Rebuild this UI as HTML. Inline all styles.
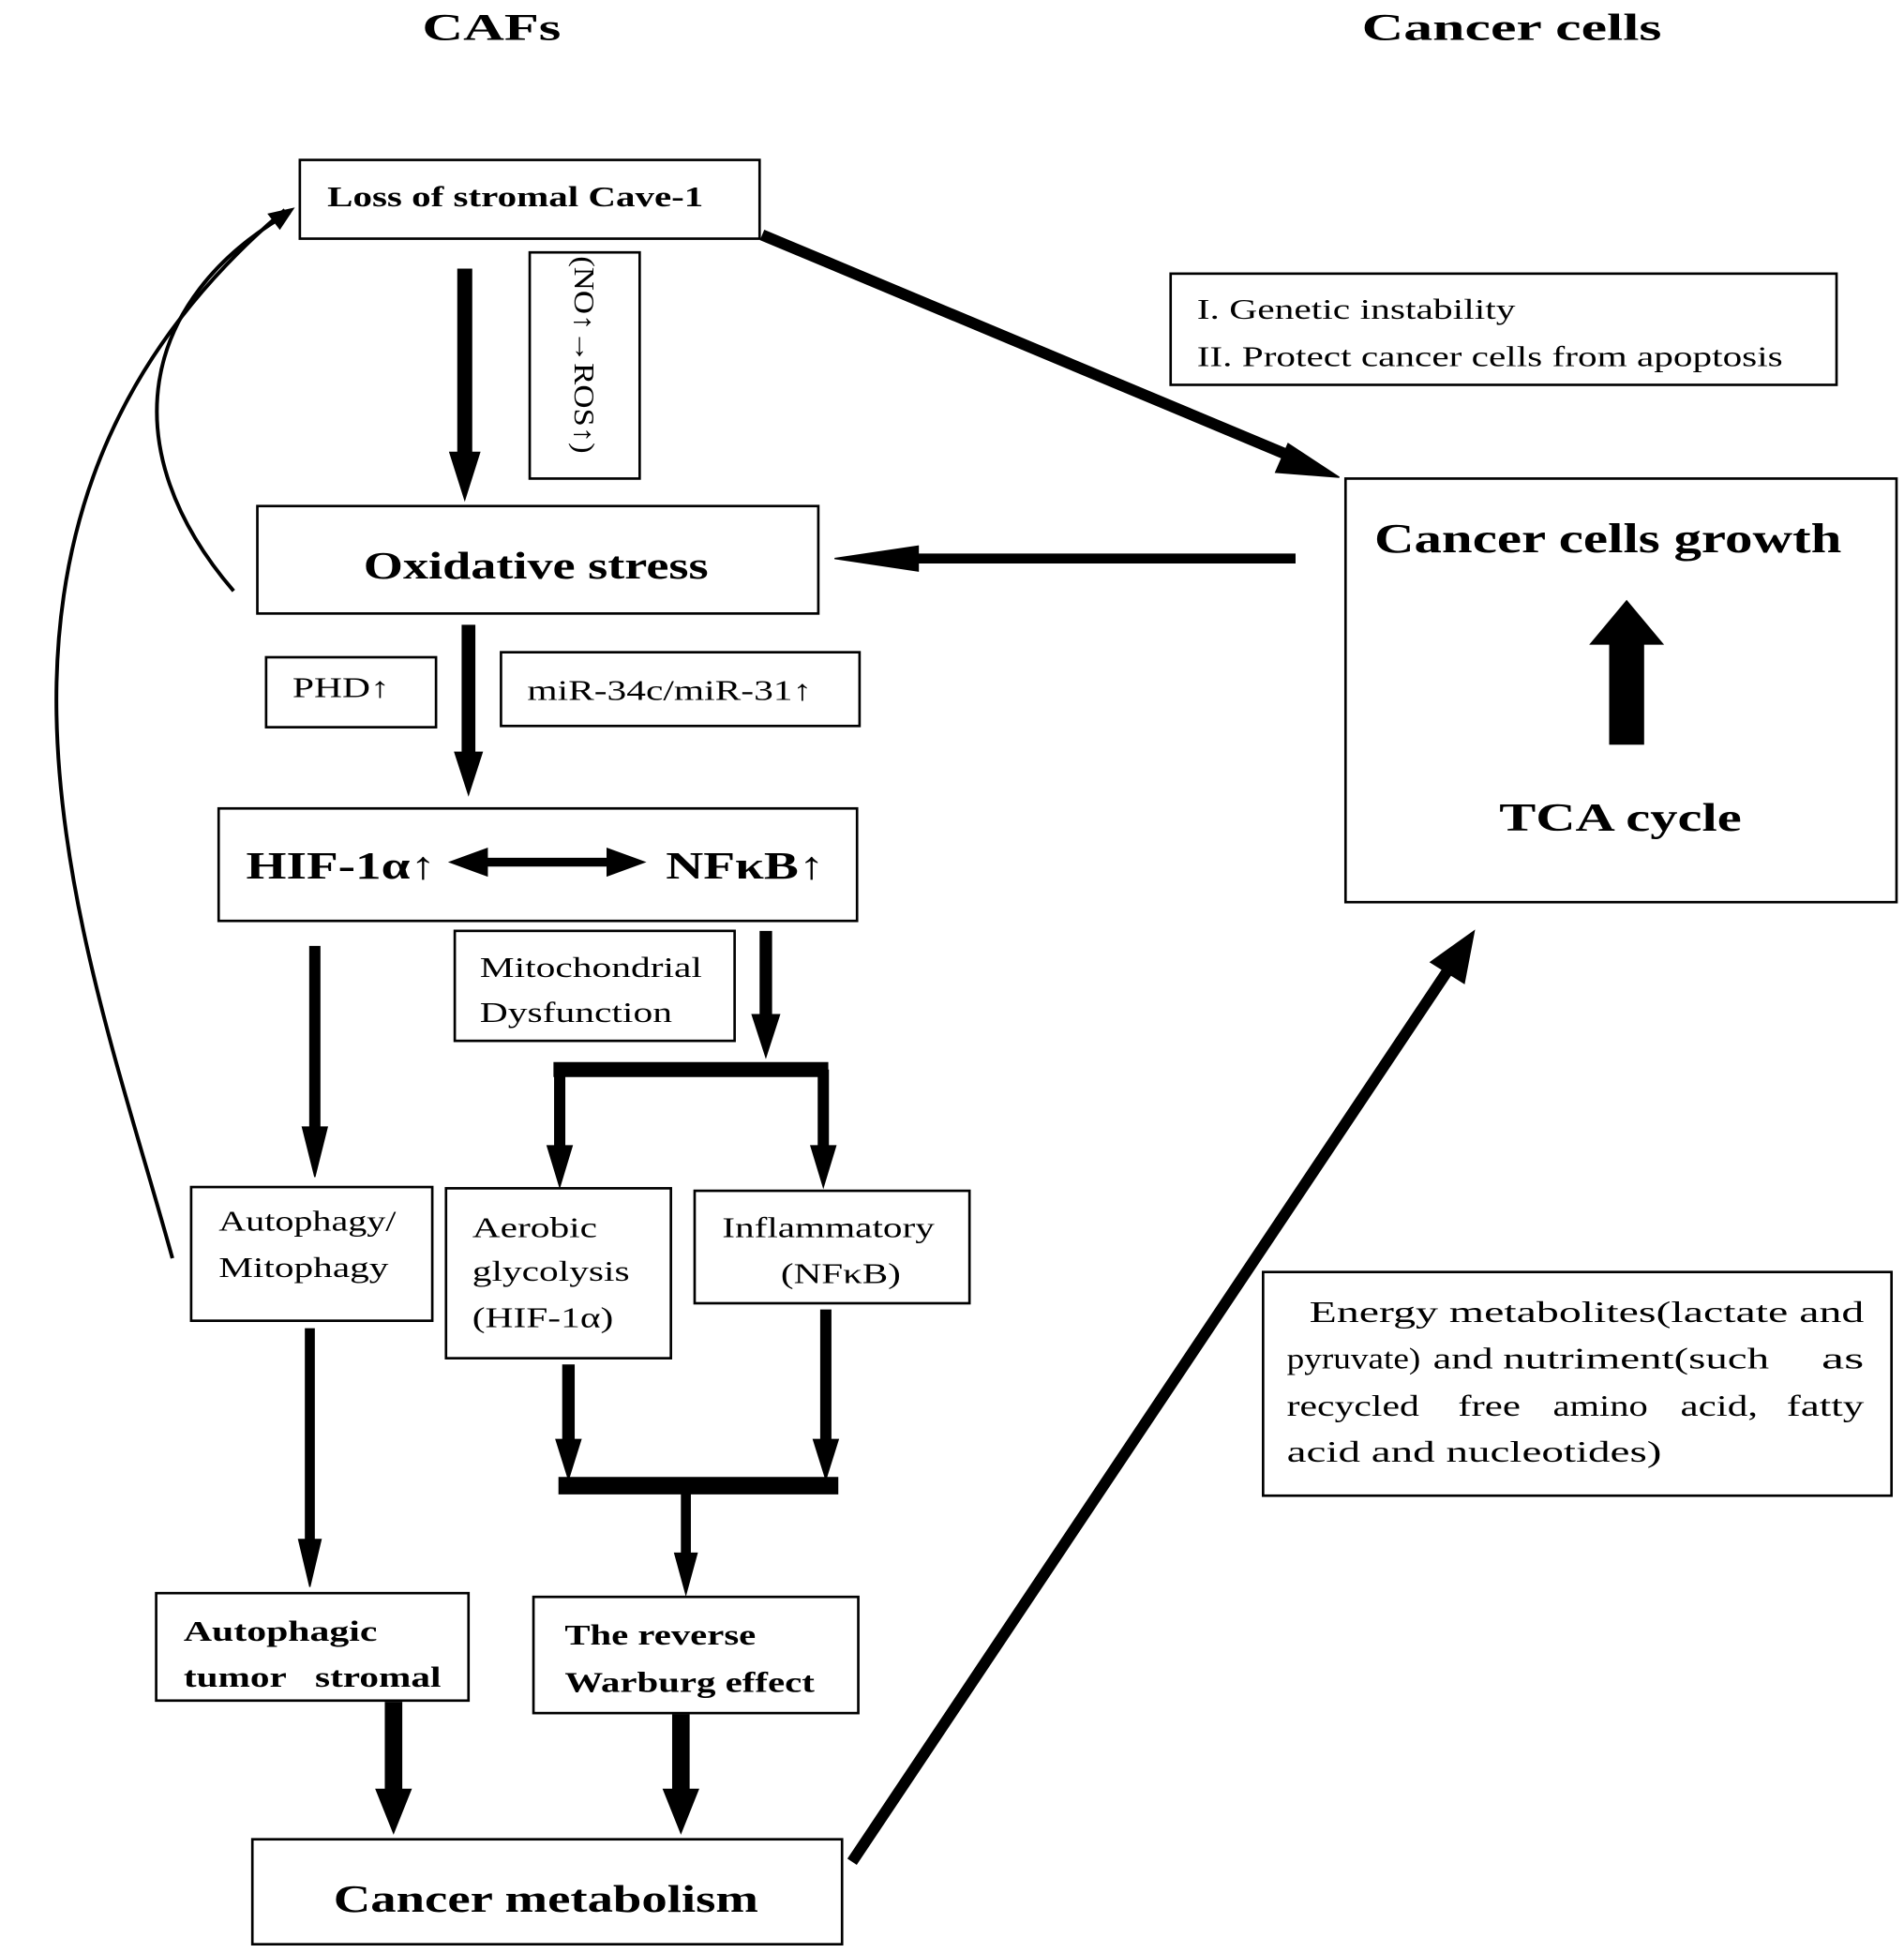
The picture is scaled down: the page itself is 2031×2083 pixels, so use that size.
<!DOCTYPE html>
<html><head><meta charset="utf-8"><style>
html,body{margin:0;padding:0;background:#fff}
svg{display:block}
text{font-family:"Liberation Serif",serif;fill:#000}
.b{font-weight:bold}
</style></head><body>
<svg width="2031" height="2083" viewBox="0 0 1524 1563" preserveAspectRatio="none" xmlns="http://www.w3.org/2000/svg">
<g fill="none" stroke="#000" stroke-width="2">
<rect x="240" y="128" width="368" height="63"/>
<rect x="424" y="202" width="88" height="181"/>
<rect x="206" y="405" width="449" height="86"/>
<rect x="937" y="219" width="533" height="89"/>
<rect x="1077" y="383" width="441" height="339"/>
<rect x="213" y="526" width="136" height="56"/>
<rect x="401" y="522" width="287" height="59"/>
<rect x="175" y="647" width="511" height="90"/>
<rect x="364" y="745" width="224" height="88"/>
<rect x="153" y="950" width="193" height="107"/>
<rect x="357" y="951" width="180" height="136"/>
<rect x="556" y="953" width="220" height="90"/>
<rect x="125" y="1275" width="250" height="86"/>
<rect x="427" y="1278" width="260" height="93"/>
<rect x="202" y="1472" width="472" height="84"/>
<rect x="1011" y="1018" width="503" height="179"/>
</g>
<g>
<text x="338" y="32" class="b" font-size="30" textLength="111" lengthAdjust="spacingAndGlyphs">CAFs</text>
<text x="1090" y="32" class="b" font-size="30" textLength="240" lengthAdjust="spacingAndGlyphs">Cancer cells</text>
<text x="262" y="165" class="b" font-size="23" textLength="301" lengthAdjust="spacingAndGlyphs">Loss of stromal Cave-1</text>
<text transform="translate(460,205) rotate(90)" font-size="23" textLength="158" lengthAdjust="spacingAndGlyphs">(NO↑→ROS↑)</text>
<text x="291" y="463" class="b" font-size="31" textLength="276" lengthAdjust="spacingAndGlyphs">Oxidative stress</text>
<text x="958" y="255" font-size="23" textLength="255" lengthAdjust="spacingAndGlyphs">I. Genetic instability</text>
<text x="958" y="293" font-size="23" textLength="469" lengthAdjust="spacingAndGlyphs">II. Protect cancer cells from apoptosis</text>
<text x="1100" y="442" class="b" font-size="33" textLength="374" lengthAdjust="spacingAndGlyphs">Cancer cells growth</text>
<text x="1200" y="665" class="b" font-size="32" textLength="194" lengthAdjust="spacingAndGlyphs">TCA cycle</text>
<text x="234" y="558" font-size="23" textLength="78" lengthAdjust="spacingAndGlyphs">PHD↑</text>
<text x="422" y="560" font-size="23" textLength="228" lengthAdjust="spacingAndGlyphs">miR-34c/miR-31↑</text>
<text x="197" y="703" class="b" font-size="31" textLength="152" lengthAdjust="spacingAndGlyphs">HIF-1α↑</text>
<text x="533" y="703" class="b" font-size="31" textLength="127" lengthAdjust="spacingAndGlyphs">NFκB↑</text>
<text x="384" y="782" font-size="23" textLength="178" lengthAdjust="spacingAndGlyphs">Mitochondrial</text>
<text x="384" y="818" font-size="23" textLength="154" lengthAdjust="spacingAndGlyphs">Dysfunction</text>
<text x="175" y="985" font-size="23" textLength="142" lengthAdjust="spacingAndGlyphs">Autophagy/</text>
<text x="175" y="1022" font-size="23" textLength="136" lengthAdjust="spacingAndGlyphs">Mitophagy</text>
<text x="378" y="990" font-size="23" textLength="100" lengthAdjust="spacingAndGlyphs">Aerobic</text>
<text x="378" y="1025" font-size="23" textLength="126" lengthAdjust="spacingAndGlyphs">glycolysis</text>
<text x="378" y="1062" font-size="23" textLength="113" lengthAdjust="spacingAndGlyphs">(HIF-1α)</text>
<text x="578" y="990" font-size="23" textLength="170" lengthAdjust="spacingAndGlyphs">Inflammatory</text>
<text x="625" y="1027" font-size="23" textLength="96" lengthAdjust="spacingAndGlyphs">(NFκB)</text>
<text x="147" y="1313" class="b" font-size="23" textLength="155" lengthAdjust="spacingAndGlyphs">Autophagic</text>
<text x="147" y="1350" class="b" font-size="23" xml:space="preserve" textLength="206" lengthAdjust="spacingAndGlyphs">tumor   stromal</text>
<text x="452" y="1316" class="b" font-size="23" textLength="153" lengthAdjust="spacingAndGlyphs">The reverse</text>
<text x="452" y="1354" class="b" font-size="23" textLength="200" lengthAdjust="spacingAndGlyphs">Warburg effect</text>
<text x="267" y="1530" class="b" font-size="31" textLength="340" lengthAdjust="spacingAndGlyphs">Cancer metabolism</text>
<text x="1048" y="1058" font-size="24" textLength="444" lengthAdjust="spacingAndGlyphs">Energy metabolites(lactate and</text>
<text x="1030" y="1095" font-size="24" textLength="107" lengthAdjust="spacingAndGlyphs">pyruvate)</text>
<text x="1147" y="1095" font-size="24" textLength="48" lengthAdjust="spacingAndGlyphs">and</text>
<text x="1203" y="1095" font-size="24" textLength="213" lengthAdjust="spacingAndGlyphs">nutriment(such</text>
<text x="1458" y="1095" font-size="24" textLength="34" lengthAdjust="spacingAndGlyphs">as</text>
<text x="1030" y="1133" font-size="24" textLength="106" lengthAdjust="spacingAndGlyphs">recycled</text>
<text x="1167" y="1133" font-size="24" textLength="50" lengthAdjust="spacingAndGlyphs">free</text>
<text x="1243" y="1133" font-size="24" textLength="76" lengthAdjust="spacingAndGlyphs">amino</text>
<text x="1345" y="1133" font-size="24" textLength="62" lengthAdjust="spacingAndGlyphs">acid,</text>
<text x="1430" y="1133" font-size="24" textLength="62" lengthAdjust="spacingAndGlyphs">fatty</text>
<text x="1030" y="1170" font-size="24" textLength="300" lengthAdjust="spacingAndGlyphs">acid and nucleotides)</text>
</g>
<g stroke="#000" fill="#000">
<line x1="372" y1="215" x2="372" y2="365" stroke-width="12"/><path d="M360,362 L384,362 L372,400 z"/>
<line x1="375" y1="500" x2="375" y2="605" stroke-width="11"/><path d="M364,602 L386,602 L375,636 z"/>
<line x1="613" y1="745" x2="613" y2="815" stroke-width="10"/><path d="M602,812 L624,812 L613,846 z"/>
<line x1="252" y1="757" x2="252" y2="905" stroke-width="9"/><path d="M242,902 L262,902 L252,942 z"/>
<line x1="443" y1="856" x2="663" y2="856" stroke-width="12"/>
<line x1="448" y1="856" x2="448" y2="920" stroke-width="9"/><path d="M438,917 L458,917 L448,950 z"/>
<line x1="659" y1="856" x2="659" y2="920" stroke-width="9"/><path d="M649,917 L669,917 L659,950 z"/>
<line x1="455" y1="1092" x2="455" y2="1155" stroke-width="10"/><path d="M445,1152 L465,1152 L455,1184 z"/>
<line x1="661" y1="1048" x2="661" y2="1155" stroke-width="9"/><path d="M651,1152 L671,1152 L661,1184 z"/>
<line x1="447" y1="1189" x2="671" y2="1189" stroke-width="14"/>
<line x1="549" y1="1195" x2="549" y2="1245" stroke-width="8"/><path d="M540,1243 L558,1243 L549,1276 z"/>
<line x1="248" y1="1063" x2="248" y2="1235" stroke-width="8"/><path d="M239,1232 L257,1232 L248,1270 z"/>
<line x1="315" y1="1362" x2="315" y2="1435" stroke-width="14"/><path d="M301,1432 L329,1432 L315,1467 z"/>
<line x1="545" y1="1372" x2="545" y2="1435" stroke-width="14"/><path d="M531,1432 L559,1432 L545,1467 z"/>
<line x1="385" y1="690" x2="492" y2="690" stroke-width="7"/>
<path d="M360,690 L390,679 L390,701 z"/><path d="M516,690 L486,679 L486,701 z"/>
<line x1="1037" y1="447" x2="730" y2="447" stroke-width="8"/><path d="M668,447 L735,437 L735,457 z"/>
<line x1="610" y1="188" x2="1040" y2="368" stroke-width="9"/><path d="M1072,382 L1031,355 L1021,378 z" />
<line x1="682" y1="1490" x2="1160" y2="775" stroke-width="9"/><path d="M1180,745 L1145,770 L1172,787 z"/>
<rect x="1288" y="515" width="28" height="81" stroke="none"/><path d="M1272,516 L1332,516 L1302,480 z" stroke="none"/>
</g>
<g fill="none" stroke="#000" stroke-width="3">
<path d="M187,473 C90,360 110,240 232,170"/>
<path d="M138,1007 C70,760 -70,420 228,168"/>
</g>
<path d="M236,166 L214,171 L224,184 z" fill="#000"/>
</svg>
</body></html>
